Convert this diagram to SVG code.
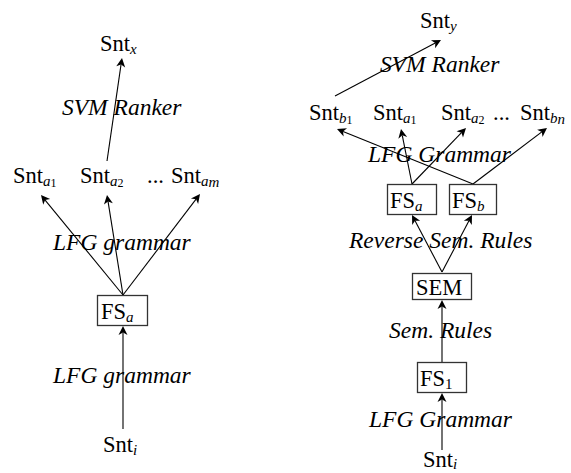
<svg xmlns="http://www.w3.org/2000/svg" width="571" height="473" viewBox="0 0 571 473">
<style>
.n{font-size:22.5px}
.l{font-size:23.5px;font-style:italic}
.s{font-size:15px;font-style:italic}
.s2{font-size:12px;font-style:normal}
.c{stroke:#000;stroke-width:1.1;fill:none}
.h{fill:#000;stroke:none}
.b{fill:#fff;stroke:#333;stroke-width:1.3}
</style>
<rect width="571" height="473" fill="#fff"/>
<g id="connectors">
<line class="c" x1="107" y1="161" x2="121.06" y2="64.43"/>
<path class="h" d="M122,58 L125.16,67.56 L121.06,64.43 L116.25,66.26 Z"/>
<line class="c" x1="123" y1="295" x2="45.12" y2="200.03"/>
<path class="h" d="M41,195 L50.19,199.11 L45.12,200.03 L43.23,204.81 Z"/>
<line class="c" x1="123" y1="295" x2="108.03" y2="201.42"/>
<path class="h" d="M107,195 L112.86,203.18 L108.03,201.42 L103.98,204.6 Z"/>
<line class="c" x1="123" y1="295" x2="196.06" y2="199.17"/>
<path class="h" d="M200,194 L198.12,203.89 L196.06,199.17 L190.96,198.43 Z"/>
<line class="c" x1="123" y1="429" x2="123" y2="332.5"/>
<path class="h" d="M123,326 L127.5,335 L123,332.5 L118.5,335 Z"/>
<line class="c" x1="335" y1="96" x2="435.25" y2="43.04"/>
<path class="h" d="M441,40 L435.14,48.18 L435.25,43.04 L430.94,40.22 Z"/>
<line class="c" x1="412" y1="184" x2="402.27" y2="135.37"/>
<path class="h" d="M401,129 L407.18,136.94 L402.27,135.37 L398.35,138.71 Z"/>
<line class="c" x1="412" y1="184" x2="461.49" y2="132.68"/>
<path class="h" d="M466,128 L462.99,137.6 L461.49,132.68 L456.51,131.36 Z"/>
<line class="c" x1="473" y1="184" x2="343.03" y2="131.44"/>
<path class="h" d="M337,129 L347.03,128.2 L343.03,131.44 L343.66,136.55 Z"/>
<line class="c" x1="473" y1="184" x2="541.82" y2="131.92"/>
<path class="h" d="M547,128 L542.54,137.02 L541.82,131.92 L537.11,129.84 Z"/>
<line class="c" x1="442" y1="272" x2="415.03" y2="220.75"/>
<path class="h" d="M412,215 L420.17,220.87 L415.03,220.75 L412.21,225.06 Z"/>
<line class="c" x1="442" y1="272" x2="468.97" y2="220.75"/>
<path class="h" d="M472,215 L471.79,225.06 L468.97,220.75 L463.83,220.87 Z"/>
<line class="c" x1="442" y1="362" x2="442" y2="306.5"/>
<path class="h" d="M442,300 L446.5,309 L442,306.5 L437.5,309 Z"/>
<line class="c" x1="442" y1="450" x2="442" y2="399.5"/>
<path class="h" d="M442,393 L446.5,402 L442,399.5 L437.5,402 Z"/>
</g>
<g id="labels">
<text class="l" font-family="Liberation Serif" x="62" y="115">SVM Ranker</text>
<text class="l" font-family="Liberation Serif" x="53" y="250">LFG grammar</text>
<text class="l" font-family="Liberation Serif" x="53" y="383">LFG grammar</text>
<text class="l" font-family="Liberation Serif" x="380" y="72">SVM Ranker</text>
<text class="l" font-family="Liberation Serif" x="368" y="162">LFG Grammar</text>
<text class="l" font-family="Liberation Serif" x="349" y="248">Reverse Sem. Rules</text>
<text class="l" font-family="Liberation Serif" x="389" y="338">Sem. Rules</text>
<text class="l" font-family="Liberation Serif" x="369" y="427">LFG Grammar</text>
</g>
<g id="snt-x"><text class="n" font-family="Liberation Serif" x="100" y="51">Snt<tspan class="s" dy="3">x</tspan></text></g>
<g id="snt-a1-left"><text class="n" font-family="Liberation Serif" x="13" y="183">Snt<tspan class="s" dy="3">a</tspan><tspan class="s2" dy="1">1</tspan></text></g>
<g id="snt-a2-left"><text class="n" font-family="Liberation Serif" x="80" y="183">Snt<tspan class="s" dy="3">a</tspan><tspan class="s2" dy="1">2</tspan></text></g>
<g id="dots-left"><text class="n" font-family="Liberation Serif" x="147" y="183">...</text></g>
<g id="snt-am"><text class="n" font-family="Liberation Serif" x="171" y="183">Snt<tspan class="s" dy="3">a</tspan><tspan class="s" font-size="12" dy="1">m</tspan></text></g>
<g id="fs-a-left"><rect class="b" x="97.5" y="295.5" width="50" height="30"/><text class="n" font-family="Liberation Serif" x="101" y="319">FS<tspan class="s" dy="3">a</tspan></text></g>
<g id="snt-i-left"><text class="n" font-family="Liberation Serif" x="103" y="452">Snt<tspan class="s" dy="3">i</tspan></text></g>
<g id="snt-y"><text class="n" font-family="Liberation Serif" x="420" y="28">Snt<tspan class="s" dy="3">y</tspan></text></g>
<g id="snt-b1"><text class="n" font-family="Liberation Serif" x="309" y="120">Snt<tspan class="s" dy="3">b</tspan><tspan class="s2" dy="1">1</tspan></text></g>
<g id="snt-a1-right"><text class="n" font-family="Liberation Serif" x="373" y="120">Snt<tspan class="s" dy="3">a</tspan><tspan class="s2" dy="1">1</tspan></text></g>
<g id="snt-a2-right"><text class="n" font-family="Liberation Serif" x="441" y="120">Snt<tspan class="s" dy="3">a</tspan><tspan class="s2" dy="1">2</tspan></text></g>
<g id="dots-right"><text class="n" font-family="Liberation Serif" x="493" y="120">...</text></g>
<g id="snt-bn"><text class="n" font-family="Liberation Serif" x="520" y="120">Snt<tspan class="s" dy="3">b</tspan><tspan class="s" font-size="12" dy="1">n</tspan></text></g>
<g id="fs-a-right"><rect class="b" x="387.5" y="184.5" width="49" height="30"/><text class="n" font-family="Liberation Serif" x="390" y="208">FS<tspan class="s" dy="3">a</tspan></text></g>
<g id="fs-b"><rect class="b" x="449.5" y="184.5" width="47" height="30"/><text class="n" font-family="Liberation Serif" x="452" y="208">FS<tspan class="s" dy="3">b</tspan></text></g>
<g id="sem"><rect class="b" x="412.5" y="273.5" width="59" height="26"/><text class="n" font-family="Liberation Serif" x="416" y="295">SEM</text></g>
<g id="fs-1"><rect class="b" x="417.5" y="362.5" width="49" height="30"/><text class="n" font-family="Liberation Serif" x="420" y="386">FS<tspan dy="3" font-size="15">1</tspan></text></g>
<g id="snt-i-right"><text class="n" font-family="Liberation Serif" x="423" y="467">Snt<tspan class="s" dy="2">i</tspan></text></g>
</svg>
